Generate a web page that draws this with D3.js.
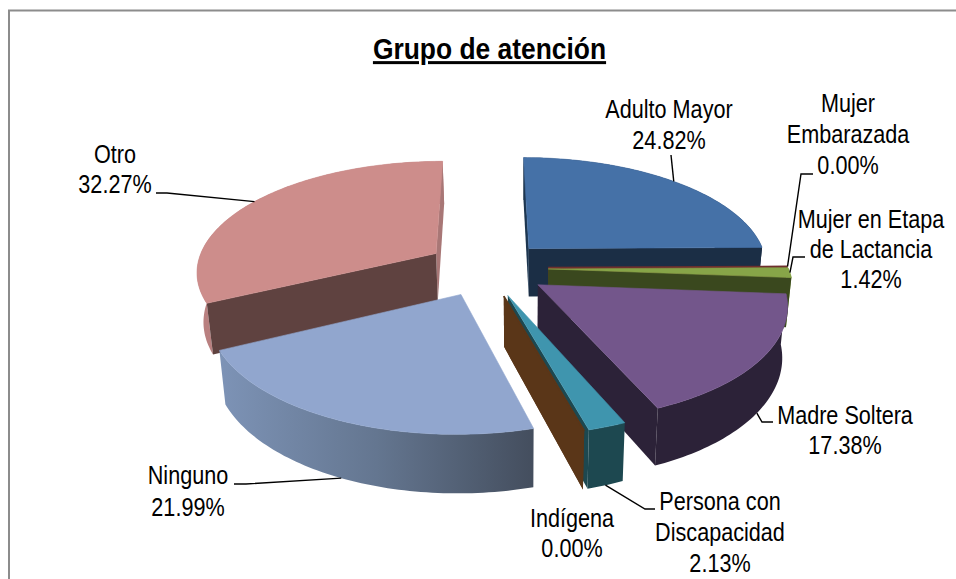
<!DOCTYPE html>
<html>
<head>
<meta charset="utf-8">
<script src="https://cdn.jsdelivr.net/npm/d3@7"></script>
<style>
html,body{margin:0;padding:0;background:#fff;overflow:hidden}
svg{display:block}
text{font-family:"Liberation Sans",Arial,sans-serif;fill:#000}
</style>
</head>
<body>
<div id="chart"></div>
<script>
// ---- data ----
const categories = ["Adulto Mayor","Mujer Embarazada","Mujer en Etapa de Lactancia","Madre Soltera","Persona con Discapacidad","Indígena","Ninguno","Otro"];
const values = [24.82,0.00,1.42,17.38,2.13,0.00,21.99,32.27];
const labelLines = [["Adulto Mayor"],["Mujer","Embarazada"],["Mujer en Etapa","de Lactancia"],["Madre Soltera"],["Persona con","Discapacidad"],["Indígena"],["Ninguno"],["Otro"]];
const titleText = "Grupo de atención";

// ---- styles ----
const topColors   = ["#4571a7","#6e2f2d","#87a548","#73568b","#3f95ae","#5a3618","#91a6ce","#cd8d8b"];
const startWall   = ["#1d3650","#6e2f2d","#3a481e","#2c2238","#1d4850","#5a3618","#4a5568","#5f4240"];
const endWall     = ["#1b2e45","#6e2f2d","#3a481e","#2c2238","#1d4850","#5a3618","#7a90b2","#a87776"];
const outerWall   = ["#1b2e45","#6e2f2d","#7f9c42","#2c2238","#1d4850","#5a3618","url(#ningunoWall)","#b98080"];
const paintOrder  = [0,7,1,2,3,6,4,5];

// ---- layout ----
const W = 956, H = 579;
const explode = 0.255, persp = 0.15;
const xScale = d3.scaleLinear().domain([-1,1]).range([487-240,487+240]);
const yScale = d3.scaleLinear().domain([-1,1]).range([268+110,268-110]);
const labelCenters = [669,848,871,845,720,572,188,115];
const firstBaseline = [118,112,228,424,510,527,484,163];
const lineStep = [31,31,30,30,31,30,32,30];
const leaderTail = [
  [[671,155]],
  [[801,174],[813,174]],
  [[793,257],[805,257]],
  [[762,422],[773,422]],
  [[645,509],[655,509]],
  null,
  [[246,484],[234,484]],
  [[167,193],[156,193]]
];
const leaderOnBottom = [false,false,false,true,true,false,true,false];

const svg = d3.select("#chart").append("svg").attr("width",W).attr("height",H);
svg.append("rect").attr("width",W).attr("height",H).attr("fill","#fff");
svg.append("rect").attr("x",9).attr("y",10.5).attr("width",W+20).attr("height",H+20)
  .attr("fill","none").attr("stroke","#8c8c8c").attr("stroke-width",2);

const grad = svg.append("defs").append("linearGradient").attr("id","ningunoWall")
  .attr("gradientUnits","userSpaceOnUse").attr("x1",220).attr("x2",533).attr("y1",0).attr("y2",0);
grad.append("stop").attr("offset",0).attr("stop-color","#7d93b6");
grad.append("stop").attr("offset",0.5).attr("stop-color","#647690");
grad.append("stop").attr("offset",1).attr("stop-color","#444e5e");

const arcs = d3.pie().sort(null).value(d=>d).startAngle(0).endAngle(2*Math.PI)(values);

function project(d,a,r){
  const m = (d.startAngle+d.endAngle)/2;
  const X = explode*Math.sin(m)+r*Math.sin(a);
  const Y = explode*Math.cos(m)+r*Math.cos(a);
  const w = 1+persp*Y;
  return [xScale(X/w), yScale(Y/w)];
}
function lower(p){ return [p[0]+(520-p[0])*0.02, p[1]+48+(p[1]-250)*0.06]; }
const line = d3.line();

function rim(d){
  const n = Math.max(2,Math.ceil((d.endAngle-d.startAngle)/0.02));
  return d3.range(n+1).map(i=>project(d,d.startAngle+(d.endAngle-d.startAngle)*i/n,1));
}
// a cut face shows only when the slice's top lies above its top edge
function faces(apex,p,q){
  const dx = p[0]-apex[0];
  if(Math.abs(dx)<1e-6) return true;
  return q[1] <= apex[1]+(q[0]-apex[0])*(p[1]-apex[1])/dx+0.5;
}
const g = svg.append("g");
paintOrder.forEach(i=>{
  const d = arcs[i];
  const apex = project(d,0,0);
  const pts = rim(d);
  const a = pts[0], b = pts[pts.length-1], q = pts[Math.floor(pts.length/2)];
  const s = g.append("g").attr("class","slice");
  s.append("path").attr("d",line(pts.concat(pts.slice().reverse().map(lower)))+"Z").attr("fill",outerWall[i]);
  if(faces(apex,b,q)) s.append("path").attr("d",line([b,apex,lower(apex),lower(b)])+"Z").attr("fill",endWall[i]);
  if(faces(apex,a,q)) s.append("path").attr("d",line([a,apex,lower(apex),lower(a)])+"Z").attr("fill",startWall[i]);
  s.append("path").attr("d",line([apex].concat(pts))+"Z").attr("fill",topColors[i])
    .attr("stroke",topColors[i]).attr("stroke-width",values[i]===0?1.8:0.6);
});

const leaders = svg.append("g").attr("fill","none").attr("stroke","#000").attr("stroke-width",1.4);
arcs.forEach((d,i)=>{
  if(!leaderTail[i]) return;
  const m = (d.startAngle+d.endAngle)/2;
  let p = project(d,m,1);
  if(leaderOnBottom[i]) p = lower(p);
  leaders.append("path").attr("d",line([p].concat(leaderTail[i])));
});

const fmt = d3.format(".2f");
const labels = svg.append("g").attr("font-size",25).attr("text-anchor","middle");
arcs.forEach((d,i)=>{
  const rows = labelLines[i].concat([fmt(values[i])+"%"]);
  rows.forEach((t,k)=>{
    labels.append("text")
      .attr("transform",`translate(${labelCenters[i]},${firstBaseline[i]+k*lineStep[i]}) scale(0.865,1)`)
      .text(t);
  });
});

svg.append("text").attr("text-anchor","middle").attr("font-size",30).attr("font-weight","bold")
  .attr("text-decoration","underline")
  .attr("transform","translate(489.5,59) scale(0.88,1)").text(titleText);
</script>
</body>
</html>
